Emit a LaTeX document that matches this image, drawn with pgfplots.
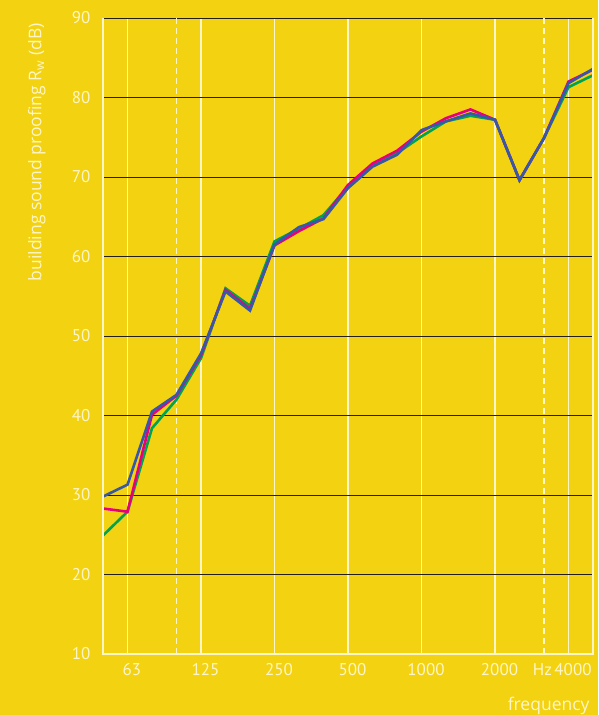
\documentclass[border=0pt]{standalone}
\usepackage{pgfplots}
\pgfplotsset{compat=1.18}
\usepackage{pgfplotstable}
\usepackage{fontspec}
\setmainfont{PT Sans}
\newfontfamily\labelfont{Open Sans}
\definecolor{bgyellow}{RGB}{242,210,17}
\definecolor{cgreen}{RGB}{0,163,82}
\definecolor{cpink}{RGB}{230,0,126}
\definecolor{cblue}{RGB}{54,88,166}
\definecolor{cwhite}{RGB}{255,246,200}
\definecolor{cblack}{RGB}{35,30,15}
\pgfplotstableread{
i blue pink green
0 29.8 28.3 24.9
1 31.3 27.9 27.9
2 40.5 40.1 38.4
3 42.6 42.5 42.0
4 47.8 47.6 47.2
5 55.6 55.8 56.0
6 53.2 53.4 53.8
7 61.5 61.4 61.9
8 63.7 63.2 63.5
9 64.7 64.8 65.2
10 68.6 69.0 68.8
11 71.3 71.7 71.5
12 72.8 73.3 73.0
13 75.9 75.7 75.1
14 77.0 77.4 77.0
15 78.0 78.5 77.7
16 77.2 77.2 77.2
17 69.6 69.6 69.6
18 74.9 74.9 74.9
19 81.8 82.0 81.3
20 83.6 83.5 82.8
}\datatable
\begin{document}
\begin{tikzpicture}
\fill[bgyellow] (-103pt,-61pt) rectangle (495pt,654pt);
\useasboundingbox (-103pt,-61pt) rectangle (495pt,654pt);
\begin{axis}[
  at={(0pt,0pt)}, anchor=origin,
  scale only axis, width=490pt, height=636pt,
  xmin=0, xmax=20, ymin=10, ymax=90,
  axis line style={draw=none},
  xtick={1,4,7,10,13,16,19,20},
  xticklabels={63,125,250,500,1000,2000,4000,},
  extra x ticks={3,18},
  extra x tick labels={,Hz},
  extra x tick style={major grid style={cwhite, line width=1.6pt, dash pattern=on 6pt off 4pt}, xticklabel style={xshift=-6pt}},
  ytick={10,20,...,90},
  yticklabels={10,20,30,40,50,60,70,80,90},
  major tick length=0pt,
  xmajorgrids, ymajorgrids,
  x grid style={cwhite, line width=1.6pt},
  y grid style={cblack, line width=0.9pt},
  tick label style={font=\fontsize{17}{20}\selectfont, text=cwhite},
  xticklabel style={yshift=-6pt, xshift=4.5pt},
  yticklabel style={xshift=-9pt},
  xlabel={frequency},
  ylabel={building sound proofing R\textsubscript{w} (dB)},
  every axis x label/.style={at={(axis description cs:1,-0.082)}, anchor=east, font=\labelfont\fontsize{17.5}{20}\selectfont, text=cwhite},
  every axis y label/.style={at={(axis description cs:-0.135,0.997)}, rotate=90, anchor=east, font=\labelfont\fontsize{17.5}{20}\selectfont, text=cwhite},
  clip=false,
]
\addplot[cgreen, line width=2.6pt] table[x=i, y=green] {\datatable};
\addplot[cpink, line width=2.6pt] table[x=i, y=pink] {\datatable};
\addplot[cblue, line width=2.6pt] table[x=i, y=blue] {\datatable};
\draw[cwhite, line width=1.8pt] (axis cs:0,90) -- (axis cs:0,10) -- (axis cs:20,10) -- (axis cs:20,90);
\end{axis}
\end{tikzpicture}
\end{document}
